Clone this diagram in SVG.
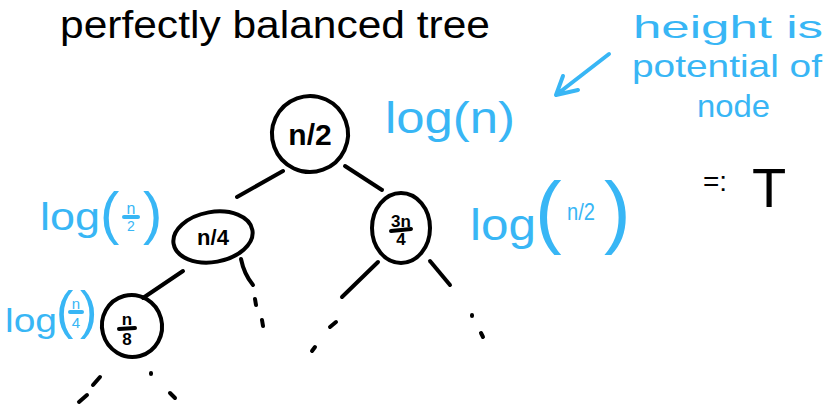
<svg xmlns="http://www.w3.org/2000/svg" width="828" height="406" viewBox="0 0 828 406">
<style>
.ink{fill:none;stroke:#000;stroke-width:4;stroke-linecap:round;stroke-linejoin:round}
.blue{fill:none;stroke:#38b6f5;stroke-width:4;stroke-linecap:round;stroke-linejoin:round}
.t{font-family:"Liberation Sans","DejaVu Sans",sans-serif;fill:#000}
.b{font-family:"Liberation Sans","DejaVu Sans",sans-serif;fill:#38b6f5}
.lbl{font-family:"Liberation Sans","DejaVu Sans",sans-serif;font-weight:bold;fill:#000;text-anchor:middle}
</style>
<rect width="828" height="406" fill="#fff"/>
<text class="t" x="60" y="38" font-size="38" textLength="430" lengthAdjust="spacingAndGlyphs">perfectly balanced tree</text>

<g id="connectors">
<path class="ink" d="M283 171 L237 197"/>
<path class="ink" d="M345 166 L382 190"/>
<path class="ink" d="M143 298 L183 271"/>
<path class="ink" d="M241 259 Q244 274 253 285"/>
<path class="ink" d="M255 299 L256 305 M262 320 L263 326"/>
<path class="ink" d="M342 297 L378 262"/>
<path class="ink" d="M330 327 L336 322 M312 351 L315 347"/>
<path class="ink" d="M430 261 L450 285"/>
<path class="ink" d="M472 315 L472 316 M481 333 L483 337"/>
<path class="ink" d="M93 385 L100 377 M79 402 L87 395"/>
<path class="ink" d="M151 373 L151 374 M170 393 L175 398"/>
</g>

<g id="root">
<ellipse class="ink" cx="310" cy="134" rx="38" ry="38" transform="rotate(-20 310 134)"/>
<text class="lbl" x="310" y="145" font-size="30">n/2</text>
</g>
<g id="left">
<ellipse class="ink" cx="213" cy="237" rx="40" ry="25" transform="rotate(-10 213 237)"/>
<text class="lbl" x="213" y="245" font-size="22">n/4</text>
</g>
<g id="right">
<ellipse class="ink" cx="401" cy="228" rx="29" ry="35"/>
<text class="lbl" x="401" y="227" font-size="17">3n</text>
<path class="ink" d="M391 231 L411 229" stroke-width="3"/>
<text class="lbl" x="401" y="245" font-size="17">4</text>
</g>
<g id="leftleft">
<ellipse class="ink" cx="132" cy="326" rx="30" ry="31" transform="rotate(-15 132 326)"/>
<text class="lbl" x="127" y="325" font-size="17">n</text>
<path class="ink" d="M119 329 L135 328" stroke-width="3"/>
<text class="lbl" x="127" y="345" font-size="17">8</text>
</g>

<g id="label-root">
<text class="b" x="385" y="133" font-size="44" textLength="130" lengthAdjust="spacingAndGlyphs">log(n)</text>
</g>
<g id="label-left">
<text class="b" x="40" y="230" font-size="38" textLength="60" lengthAdjust="spacingAndGlyphs">log</text>
<text class="b" x="100" y="233" font-size="58">(</text>
<text class="b" x="131" y="214" font-size="16" text-anchor="middle">n</text>
<path class="blue" d="M124 217 L138 217" stroke-width="2.5"/>
<text class="b" x="131" y="231" font-size="14" text-anchor="middle">2</text>
<text class="b" x="143" y="233" font-size="58">)</text>
</g>
<g id="label-right">
<text class="b" x="470" y="240" font-size="44" textLength="66" lengthAdjust="spacingAndGlyphs">log</text>
<text class="b" x="535" y="238" font-size="80">(</text>
<text class="b" x="567" y="220" font-size="24" textLength="28" lengthAdjust="spacingAndGlyphs">n/2</text>
<text class="b" x="604" y="238" font-size="80">)</text>
</g>
<g id="label-leftleft">
<text class="b" x="5" y="332" font-size="34" textLength="52" lengthAdjust="spacingAndGlyphs">log</text>
<text class="b" x="56" y="328" font-size="52">(</text>
<text class="b" x="76" y="309" font-size="15" text-anchor="middle">n</text>
<path class="blue" d="M70 312 L82 312" stroke-width="2.5"/>
<text class="b" x="76" y="328" font-size="15" text-anchor="middle">4</text>
<text class="b" x="80" y="328" font-size="52">)</text>
</g>

<g id="note">
<text class="b" x="633" y="38" font-size="32" textLength="190" lengthAdjust="spacingAndGlyphs">height is</text>
<text class="b" x="632" y="77" font-size="32" textLength="190" lengthAdjust="spacingAndGlyphs">potential of</text>
<text class="b" x="697" y="117" font-size="32" textLength="73" lengthAdjust="spacingAndGlyphs">node</text>
<path class="blue" d="M609 54 L556 95 M563 76 L556 95 L578 90"/>
</g>

<g id="def">
<text class="t" x="703" y="191" font-size="28">=:</text>
<text class="t" x="752" y="207" font-size="56">T</text>
</g>
</svg>
